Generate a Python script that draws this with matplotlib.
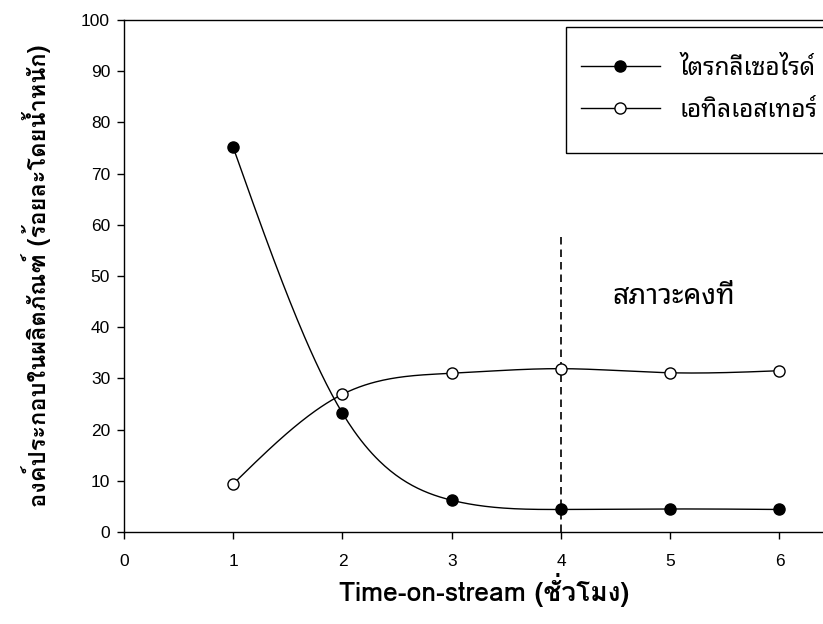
import numpy as np
import matplotlib
matplotlib.use('Agg')
import matplotlib.pyplot as plt
from matplotlib.lines import Line2D
from matplotlib.patches import Rectangle

# data
hours = [1, 2, 3, 4, 5, 6]
triglyceride = [75.1, 23.2, 6.2, 4.4, 4.5, 4.4]
ethyl_ester = [9.4, 26.9, 31.0, 31.9, 31.1, 31.5]

steady_x = 4
steady_top = 58.5

thai = ['Noto Sans Thai Looped', 'Noto Sans', 'DejaVu Sans']
thai_bold = ['Loma', 'Noto Sans', 'DejaVu Sans']


def natural_spline(x, y, n=300):
    # plain natural cubic spline, same kind of curve the original plot draws
    x = np.asarray(x, float)
    y = np.asarray(y, float)
    k = len(x)
    h = np.diff(x)
    A = np.zeros((k, k))
    b = np.zeros(k)
    A[0, 0] = 1
    A[-1, -1] = 1
    for i in range(1, k - 1):
        A[i, i - 1] = h[i - 1]
        A[i, i] = 2 * (h[i - 1] + h[i])
        A[i, i + 1] = h[i]
        b[i] = 3 * ((y[i + 1] - y[i]) / h[i] - (y[i] - y[i - 1]) / h[i - 1])
    c = np.linalg.solve(A, b)
    xs = np.linspace(x[0], x[-1], n)
    idx = np.clip(np.searchsorted(x, xs) - 1, 0, k - 2)
    dx = xs - x[idx]
    hi = h[idx]
    bb = (y[idx + 1] - y[idx]) / hi - hi * (2 * c[idx] + c[idx + 1]) / 3
    dd = (c[idx + 1] - c[idx]) / (3 * hi)
    ys = y[idx] + bb * dx + c[idx] * dx ** 2 + dd * dx ** 3
    return xs, ys


W, H = 823, 624
fig = plt.figure(figsize=(W / 100, H / 100), dpi=100)
# axes run past the right edge of the picture, as in the original crop
ax = fig.add_axes([124 / W, 92 / H, 721 / W, 512 / H])

xs, ys = natural_spline(hours, triglyceride)
ax.plot(xs, ys, color='black', lw=1.0, zorder=2)
ax.plot(hours, triglyceride, 'o', ms=8, mfc='black', mec='black', mew=1.0, zorder=3)

xs, ys = natural_spline(hours, ethyl_ester)
ax.plot(xs, ys, color='black', lw=1.0, zorder=2)
ax.plot(hours, ethyl_ester, 'o', ms=8, mfc='white', mec='black', mew=1.0, zorder=3)

ax.plot([steady_x, steady_x], [0, steady_top], color='black', lw=1.2,
        dashes=(4.5, 3), zorder=1)
ax.text(4.47, 46, 'สภาวะคงที่', fontsize=20.5, family=thai, va='center', ha='left')

ax.set_xlim(0, 6.6)
ax.set_ylim(0, 100)
ax.set_xticks([0, 1, 2, 3, 4, 5, 6])
ax.set_yticks(range(0, 101, 10))
ax.tick_params(direction='out', length=5, width=1, labelsize=12.5, pad=11)
for lab in ax.get_xticklabels() + ax.get_yticklabels():
    lab.set_family(['Liberation Sans'])
ax.tick_params(axis='y', pad=5)
for s in ax.spines.values():
    s.set_linewidth(1.0)

ax.set_xlabel('Time-on-stream (ชั่วโมง)', fontsize=19, family=thai_bold,
              fontweight='bold', labelpad=3)
ax.set_ylabel('องค์ประกอบในผลิตภัณฑ์ (ร้อยละโดยน้ำหนัก)', fontsize=17, family=thai_bold,
              fontweight='bold', labelpad=22)

handles = [
    Line2D([], [], color='black', lw=1.0, marker='o', ms=8, mfc='black', mec='black'),
    Line2D([], [], color='black', lw=1.0, marker='o', ms=8, mfc='white', mec='black'),
]
leg = ax.legend(handles, ['ไตรกลีเซอไรด์', 'เอทิลเอสเทอร์'],
                loc='upper left', bbox_to_anchor=(581 / W, 1 - 57 / H),
                bbox_transform=fig.transFigure, prop={'family': thai, 'size': 17.5},
                frameon=False, handlelength=3.25, handletextpad=0.82,
                borderpad=0, labelspacing=0.74, borderaxespad=0)
# legend box, its right side lies outside the picture
fig.add_artist(Rectangle((566 / W, 1 - 153 / H), 280 / W, 126 / H,
                         transform=fig.transFigure, fill=False,
                         edgecolor='black', lw=1.0, zorder=5))

fig.savefig('out.png', dpi=100)
